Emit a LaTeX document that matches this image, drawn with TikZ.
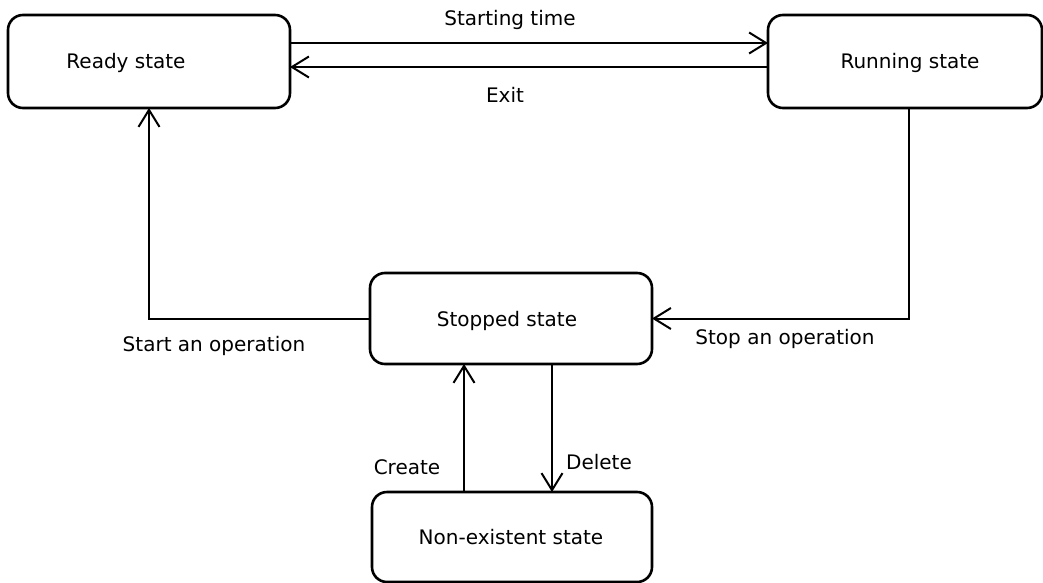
\documentclass[tikz,border=0pt]{standalone}
\usepackage{fontspec}
\setmainfont{DejaVu Sans}
\usetikzlibrary{arrows.meta}
\begin{document}
\begin{tikzpicture}[x=1pt,y=-1pt,
  statebox/.style={draw=black, line width=2.6pt, rounded corners=15pt, inner sep=0pt, outer sep=0pt},
  lbl/.style={inner sep=0pt, font=\fontsize{20}{24}\selectfont},
  flow/.style={line width=2pt, -{Straight Barb[length=17pt,width=21pt,line width=2pt]}}]
\useasboundingbox (0,0) rectangle (1043,583);
\fill[white] (0,0) rectangle (1043,583);

% state boxes
\node[statebox, minimum width=282pt, minimum height=93pt] (ready) at (149,61.5) {};
\node[statebox, minimum width=274pt, minimum height=93pt] (running) at (905,61.5) {};
\node[statebox, minimum width=282pt, minimum height=91pt] (stopped) at (511,318.5) {};
\node[statebox, minimum width=280pt, minimum height=90pt] (nonex) at (512,537) {};

% state names
\node[lbl] (readyT) at (126,63) {Ready state};
\node[lbl] (runningT) at (910,63) {Running state};
\node[lbl] (stoppedT) at (507,321) {Stopped state};
\node[lbl] (nonexT) at (511,537) {Non-existent state};

% vertical guides for the create/delete arrows
\coordinate (cx) at (464,0);
\coordinate (dx) at (552,0);

% transitions
\draw[flow] ([yshift=18.5pt]ready.east) -- ([yshift=18.5pt]running.west);
\draw[flow] ([yshift=-5.5pt]running.west) -- ([yshift=-5.5pt]ready.east);
\draw[flow] (stopped.west) -| (ready.south);
\draw[flow] ([xshift=4pt]running.south) |- (stopped.east);
\draw[flow] (nonex.north -| cx) -- (stopped.south -| cx);
\draw[flow] (stopped.south -| dx) -- (nonex.north -| dx);

% transition labels
\node[lbl] (tStart) at (510,20) {Starting time};
\node[lbl] (tExit) at (505,95) {Exit};
\node[lbl] (tOpen) at (214,346) {Start an operation};
\node[lbl] (tStop) at (785,339) {Stop an operation};
\node[lbl] (tCreate) at (407,467) {Create};
\node[lbl] (tDelete) at (599,462) {Delete};
\end{tikzpicture}
\end{document}
